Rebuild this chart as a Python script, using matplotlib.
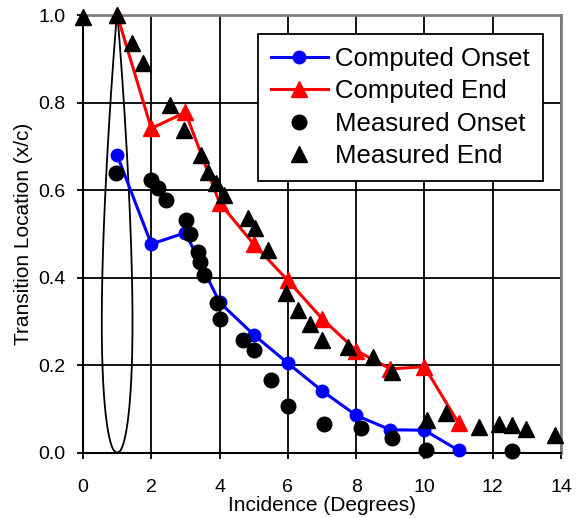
import numpy as np
import matplotlib
matplotlib.use("Agg")
import matplotlib.pyplot as plt

plt.rcParams["font.family"] = ["Liberation Sans", "DejaVu Sans"]

# Computed curves (one value per degree)
computed_x = [1, 2, 3, 4, 5, 6, 7, 8, 9, 10, 11]
computed_onset = [0.68, 0.477, 0.503, 0.344, 0.27, 0.205, 0.142, 0.086, 0.053, 0.052, 0.006]
computed_end = [1.0, 0.741, 0.778, 0.571, 0.477, 0.394, 0.307, 0.234, 0.192, 0.197, 0.068]

# Measured onset (black circles)
meas_onset_x = [0.97, 1.99, 2.2, 2.42, 3.02, 3.13, 3.38, 3.43, 3.54, 3.91, 4.01,
                4.7, 5.02, 5.5, 6.01, 7.07, 8.14, 9.06, 10.06, 12.57]
meas_onset_y = [0.64, 0.623, 0.604, 0.578, 0.532, 0.5, 0.46, 0.437, 0.406, 0.342, 0.307,
                0.258, 0.235, 0.167, 0.107, 0.066, 0.056, 0.035, 0.006, 0.005]

# Measured end (black triangles)
meas_end_x = [0.0, 0.99, 1.43, 1.75, 2.55, 2.97, 3.46, 3.65, 3.89, 4.13, 4.84, 5.04,
              5.43, 5.95, 6.31, 6.65, 6.99, 7.77, 8.5, 9.06, 10.07, 10.64, 11.6,
              12.19, 12.57, 12.97, 13.83]
meas_end_y = [0.996, 1.0, 0.935, 0.891, 0.795, 0.737, 0.68, 0.642, 0.616, 0.589, 0.536, 0.513,
              0.463, 0.365, 0.326, 0.295, 0.258, 0.243, 0.22, 0.186, 0.075, 0.092, 0.059,
              0.066, 0.064, 0.054, 0.041]

fig = plt.figure(figsize=(5.78, 5.18), dpi=100)
ax = fig.add_axes([0.1436, 0.1255, 0.827, 0.8455])

# airfoil outline (NACA symmetric thickness), chord along y, centred at x=1
s = np.linspace(0, 1, 200)
thick = 0.2969 * np.sqrt(s) - 0.126 * s - 0.3516 * s**2 + 0.2843 * s**3 - 0.1015 * s**4
half = thick / thick.max() * 0.45
ax.plot(np.concatenate([1 - half, (1 + half)[::-1]]), np.concatenate([s, s[::-1]]),
        color="black", lw=1.3, zorder=2)

ax.plot(computed_x, computed_onset, color="#0000ff", lw=2.2, marker="o", ms=9,
        label="Computed Onset", zorder=4, clip_on=False)
ax.plot(computed_x, computed_end, color="#ff0000", lw=2.2, marker="^", ms=11,
        label="Computed End", zorder=4, clip_on=False)
ax.plot(meas_onset_x, meas_onset_y, ls="none", color="black", marker="o", ms=10.5,
        label="Measured Onset", zorder=5, clip_on=False)
ax.plot(meas_end_x, meas_end_y, ls="none", color="black", marker="^", ms=11,
        label="Measured End", zorder=5, clip_on=False)

ax.set_xlim(0, 14)
ax.set_ylim(0, 1.0)
ax.set_xticks(np.arange(0, 15, 2))
ax.set_yticks(np.arange(0, 1.01, 0.2))
ax.set_yticklabels([f"{v:.1f}" for v in np.arange(0, 1.01, 0.2)])
ax.grid(True, color="black", lw=1.3)
ax.set_axisbelow(True)
ax.tick_params(direction="out", length=4.5, width=1.3, labelsize=14)
ax.tick_params(axis="x", pad=14)
ax.tick_params(axis="y", pad=8)

for side in ["left", "bottom"]:
    ax.spines[side].set_color("black")
    ax.spines[side].set_linewidth(1.5)
for side in ["top", "right"]:
    ax.spines[side].set_color("#808080")
    ax.spines[side].set_linewidth(2)

ax.set_xlabel("Incidence (Degrees)", fontsize=15, labelpad=0)
ax.set_ylabel("Transition Location (x/c)", fontsize=15, labelpad=4)

leg = ax.legend(loc="upper right", bbox_to_anchor=(0.962, 0.957), borderaxespad=0,
                fontsize=18.5, frameon=True, fancybox=False, framealpha=1,
                edgecolor="black", handlelength=2.2, handletextpad=0.3,
                borderpad=0.5, labelspacing=0.33)
leg.get_frame().set_linewidth(1.3)
leg.set_zorder(6)

fig.savefig("out.png", dpi=100)
